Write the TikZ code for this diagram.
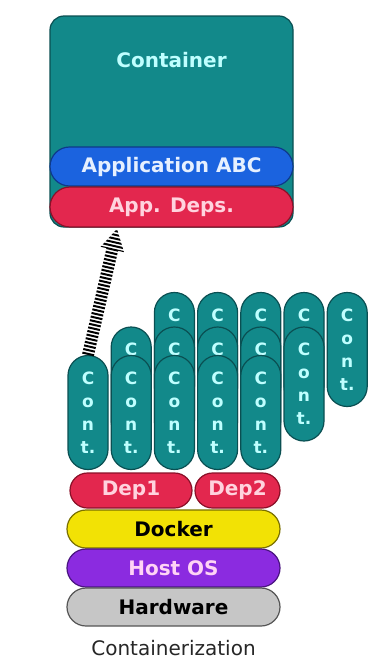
\documentclass[tikz,border=0pt]{standalone}
\usepackage{fontspec}
\setmainfont{DejaVu Sans}
\usetikzlibrary{calc}

\definecolor{tealfill}{HTML}{12898A}
\definecolor{tealedge}{HTML}{0A4F52}
\definecolor{tealtext}{HTML}{BFFFFF}
\definecolor{appblue}{HTML}{1B63DF}
\definecolor{appedge}{HTML}{0E3A8A}
\definecolor{apptext}{HTML}{E6F0FF}
\definecolor{depred}{HTML}{E3274E}
\definecolor{depedge}{HTML}{8A1028}
\definecolor{deptext}{HTML}{FFD3DE}
\definecolor{dockyel}{HTML}{F2E205}
\definecolor{dockedge}{HTML}{7A7000}
\definecolor{hostpurple}{HTML}{8B2BE0}
\definecolor{hostedge}{HTML}{4A1480}
\definecolor{hosttext}{HTML}{FFD3F5}
\definecolor{hwgray}{HTML}{C6C6C6}
\definecolor{hwedge}{HTML}{555555}

\begin{document}
\begin{tikzpicture}[x=1pt,y=-1pt,node distance=39pt,
  pill/.style={draw, line width=1.2pt, inner sep=0pt, font=\fontsize{20}{24}\selectfont\bfseries},
  cont/.style={draw=tealedge, fill=tealfill, line width=1.2pt, rounded corners=20pt,
    minimum width=40pt, minimum height=114pt, inner sep=0pt, align=center,
    text=tealtext, font=\fontsize{17}{23}\selectfont\bfseries}]
\useasboundingbox (0,0) rectangle (390,667);

% container on top
\node[draw=tealedge, fill=tealfill, line width=1.2pt, rounded corners=14pt, minimum width=243pt, minimum height=211pt] (box) at (171.5,121.5) {};
\node[text=tealtext, font=\fontsize{20}{24}\selectfont\bfseries] (title) at (171.5,60) {Container};
\node[pill, fill=appblue, draw=appedge, text=apptext, rounded corners=19.5pt, minimum width=243pt, minimum height=39pt] (app) at (171.5,166.5) {Application ABC};
\node[pill, fill=depred, draw=depedge, text=deptext, rounded corners=20pt, minimum width=243pt, minimum height=40pt] (deps) at (171.5,207) {App. Deps.};

% back row
\node[cont] (r3c3) at (174.4,349.5) {C\\\phantom{o}\\\phantom{n}\\\phantom{t.}};
\node[cont] (r3c4) at (217.6,349.5) {C\\\phantom{o}\\\phantom{n}\\\phantom{t.}};
\node[cont] (r3c5) at (260.8,349.5) {C\\\phantom{o}\\\phantom{n}\\\phantom{t.}};
\node[cont] (r3c6) at (304,349.5) {C\\\phantom{o}\\\phantom{n}\\\phantom{t.}};
\node[cont] (r3c7) at (347.2,349.5) {C\\o\\n\\t.};
% middle row
\node[cont] (r2c2) at (131.2,384) {C\\\phantom{o}\\\phantom{n}\\\phantom{t.}};
\node[cont] (r2c3) at (174.4,384) {C\\\phantom{o}\\\phantom{n}\\\phantom{t.}};
\node[cont] (r2c4) at (217.6,384) {C\\\phantom{o}\\\phantom{n}\\\phantom{t.}};
\node[cont] (r2c5) at (260.8,384) {C\\\phantom{o}\\\phantom{n}\\\phantom{t.}};
\node[cont] (r2c6) at (304,384) {C\\o\\n\\t.};
% front row
\node[cont] (r1c1) at (88,412.5) {C\\o\\n\\t.};
\node[cont] (r1c2) at (131.2,412.5) {C\\o\\n\\t.};
\node[cont] (r1c3) at (174.4,412.5) {C\\o\\n\\t.};
\node[cont] (r1c4) at (217.6,412.5) {C\\o\\n\\t.};
\node[cont] (r1c5) at (260.8,412.5) {C\\o\\n\\t.};

% host stack
\node[pill, fill=depred, draw=depedge, text=deptext, rounded corners=17.5pt, minimum width=122pt, minimum height=35pt] (dep1) at (131,490.5) {Dep1};
\node[pill, fill=depred, draw=depedge, text=deptext, rounded corners=17.5pt, minimum width=85pt, minimum height=35pt] (dep2) at (237.5,490.5) {Dep2};
\node[pill, fill=dockyel, draw=dockedge, text=black, rounded corners=19pt, minimum width=213pt, minimum height=38pt] (docker) at (173.5,529) {Docker};
\node[pill, fill=hostpurple, draw=hostedge, text=hosttext, rounded corners=19pt, minimum width=213pt, minimum height=38pt, below of=docker] (hostos) {Host OS};
\node[pill, fill=hwgray, draw=hwedge, text=black, rounded corners=19pt, minimum width=213pt, minimum height=38pt, below of=hostos] (hardware) {Hardware};
\node[below of=hardware, node distance=41pt, font=\fontsize{20}{24}\selectfont, text=black!85] (caption) {Containerization};

% hatched arrow
\coordinate (tip) at (117,229);
\coordinate (tail) at (r1c1.north);
\coordinate (hb) at ($(tip)!21pt!(tail)$);
\begin{scope}
\clip ($(tail)!6pt!90:(tip)$) -- ($(hb)!6pt!90:(tip)$) -- ($(hb)!12pt!90:(tip)$) -- (tip)
  -- ($(hb)!12pt!-90:(tip)$) -- ($(hb)!6pt!-90:(tip)$) -- ($(tail)!6pt!-90:(tip)$) -- cycle;
\draw[line width=30pt, dash pattern=on 2pt off 1.7pt] (tail) -- (tip);
\end{scope}
\end{tikzpicture}
\end{document}
